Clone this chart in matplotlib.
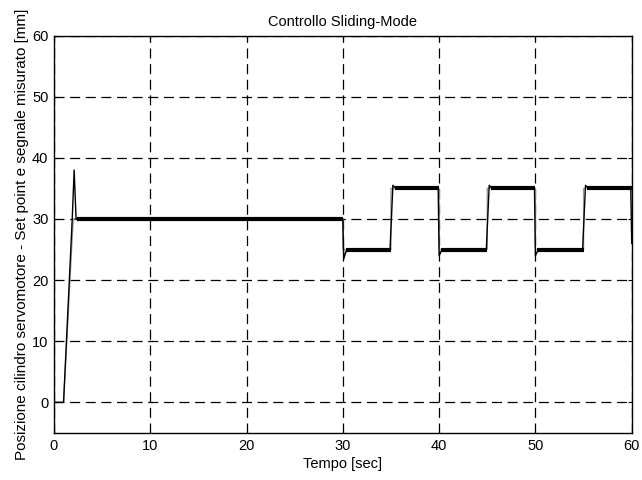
import matplotlib
matplotlib.use('Agg')
import matplotlib.pyplot as plt

plt.rcParams['font.family'] = ['Liberation Sans', 'DejaVu Sans']

# set point (grey)
t_set = [0, 1.0, 2.0, 30.0, 30.0, 35.0, 35.0, 40.0, 40.0, 45.0, 45.0, 50.0, 50.0, 55.0, 55.0, 60.0]
y_set = [0, 0, 30, 30, 25, 25, 35, 35, 25, 25, 35, 35, 25, 25, 35, 35]

# measured signal (black)
t_meas = [0, 1.0, 1.9, 2.1, 2.3, 2.6, 30.0, 30.1, 30.4, 34.9, 35.2, 35.5,
          39.9, 40.0, 40.3, 44.9, 45.2, 45.5, 49.9, 50.0, 50.3, 54.9, 55.2, 55.5, 59.9, 60.0]
y_meas = [0, 0, 30, 38, 30, 30, 30, 23.5, 25, 25, 35.5, 35,
          35, 24, 25, 25, 35.5, 35, 35, 24, 25, 25, 35.5, 35, 35, 26]

# flat parts where the measured signal chatters (start, end, level)
band_start = [2.4, 30.3, 35.4, 40.2, 45.4, 50.2, 55.4]
band_end = [30.0, 35.0, 40.0, 45.0, 50.0, 55.0, 60.0]
band_level = [30, 25, 35, 25, 35, 25, 35]

fig = plt.figure(figsize=(6.42, 4.8), dpi=100)
ax = fig.add_axes([0.084, 0.098, 0.900, 0.828])

ax.plot(t_set, y_set, color='0.6', lw=1.0, zorder=3)
ax.plot(t_meas, y_meas, color='black', lw=1.0, zorder=4)
for s, e, v in zip(band_start, band_end, band_level):
    ax.plot([s, e], [v, v], color='black', lw=3.0, solid_capstyle='butt', zorder=4)

ax.set_xlim(0, 60)
ax.set_ylim(-5, 60)
ax.set_xticks(range(0, 61, 10))
ax.set_yticks(range(0, 61, 10))
ax.grid(True, color='black', linestyle=(0, (8, 4.5)), linewidth=0.9)
ax.tick_params(direction='in', top=True, right=True, labelsize=10.5, length=3, pad=4)
for sp in ax.spines.values():
    sp.set_linewidth(1.0)

ax.set_title('Controllo Sliding-Mode', fontsize=10.5, pad=7)
ax.set_xlabel('Tempo [sec]', fontsize=10.5, labelpad=3)
ax.set_ylabel('Posizione cilindro servomotore - Set point e segnale misurato [mm]', fontsize=11, labelpad=2)

fig.savefig('out.png', dpi=100)
